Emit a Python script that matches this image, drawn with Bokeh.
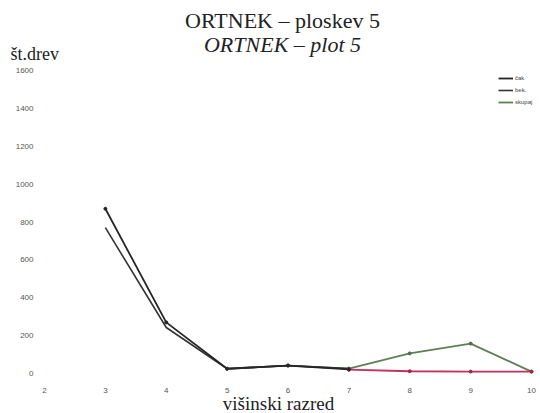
from bokeh.plotting import figure
from bokeh.models import Range1d, Label, Legend, LegendItem
from bokeh.core.properties import value
from bokeh.embed import file_html
from bokeh.resources import INLINE

# ---- data ----
x_ticks = [2, 3, 4, 5, 6, 7, 8, 9, 10]
y_ticks = [0, 200, 400, 600, 800, 1000, 1200, 1400, 1600]

x_black = [3, 4, 5, 6, 7]
cak = [870, 270, 25, 42, 22]
bek = [770, 243, 25, 42, 26]

x_green = [5, 6, 7, 8, 9, 10]
skupaj = [25, 42, 26, 106, 158, 10]

x_red = [7, 8, 9, 10]
ostalo = [20, 12, 10, 10]

legend_labels = ["čak", "bek.", "skupaj"]

title_1 = "ORTNEK – ploskev 5"
title_2 = "ORTNEK – plot 5"
y_title = "št.drev"
x_title = "višinski razred"

SERIF = "Liberation Serif"
SANS = "Liberation Sans"

W, H = 540, 413
# plotting area of the scanned chart (pixels): x=2 at 44, x=10 at 531; y=0 at 373, y=1600 at 70
px_x = (531 - 44) / (x_ticks[-1] - x_ticks[0])
px_y = (373 - 70) / (y_ticks[-1] - y_ticks[0])
x_range = Range1d(x_ticks[0] - 44 / px_x, x_ticks[-1] + (W - 531) / px_x)
y_range = Range1d(y_ticks[0] - (H - 373) / px_y, y_ticks[-1] + 70 / px_y)

p = figure(width=W, height=H, output_backend="svg", toolbar_location=None,
           title=None, x_range=x_range, y_range=y_range,
           x_axis_location=None, y_axis_location=None,
           min_border=0, min_border_left=0, min_border_right=0,
           min_border_top=0, min_border_bottom=0)
p.outline_line_color = None
p.grid.visible = False

# tick labels placed through the plot's scales
p.text(x=x_ticks, y=[y_ticks[0] - 17 / px_y] * len(x_ticks),
       text=[str(t) for t in x_ticks], text_font=value(SANS), text_font_size="8px",
       text_color="#555555", text_align="center", text_baseline="middle")
p.text(x=[x_ticks[0] - 11 / px_x] * len(y_ticks), y=y_ticks,
       text=[str(t) for t in y_ticks], text_font=value(SANS), text_font_size="8px",
       text_color="#555555", text_align="right", text_baseline="middle")

r3 = p.line(x_green, skupaj, line_color="#5f7f56", line_width=1.8)
r4 = p.line(x_red, ostalo, line_color="#c2305c", line_width=1.8)
r2 = p.line(x_black, bek, line_color="#333333", line_width=1.6)
r1 = p.line(x_black, cak, line_color="#262626", line_width=1.8)
p.scatter(x_green, skupaj, size=3, color="#4f6f46")
p.scatter(x_red, ostalo, size=3, color="#a02848")
p.scatter(x_black, cak, size=3, color="#262626")

legend = Legend(items=[LegendItem(label=legend_labels[0], renderers=[r1]),
                       LegendItem(label=legend_labels[1], renderers=[r2]),
                       LegendItem(label=legend_labels[2], renderers=[r3])],
                location=(498, 306), margin=0, padding=0, spacing=2,
                glyph_width=15, glyph_height=10, label_height=10,
                label_standoff=2, label_text_font_size="6px",
                label_text_font=SANS, label_text_color="#444444",
                background_fill_alpha=0, border_line_color=None)
p.add_layout(legend)

p.add_layout(Label(x=282, y=H - 20, x_units="screen", y_units="screen", text=title_1,
                   text_font=SERIF, text_font_size="22px", text_align="center",
                   text_baseline="middle", text_color="#222222"))
p.add_layout(Label(x=282, y=H - 44, x_units="screen", y_units="screen", text=title_2,
                   text_font=SERIF, text_font_size="22px", text_font_style="italic",
                   text_align="center", text_baseline="middle", text_color="#222222"))
p.add_layout(Label(x=10, y=H - 53, x_units="screen", y_units="screen", text=y_title,
                   text_font=SERIF, text_font_size="18px", text_align="left",
                   text_baseline="middle", text_color="#222222"))
p.add_layout(Label(x=278, y=H - 403, x_units="screen", y_units="screen", text=x_title,
                   text_font=SERIF, text_font_size="19px", text_align="center",
                   text_baseline="middle", text_color="#222222"))

open("out.html", "w").write(file_html(p, INLINE))
